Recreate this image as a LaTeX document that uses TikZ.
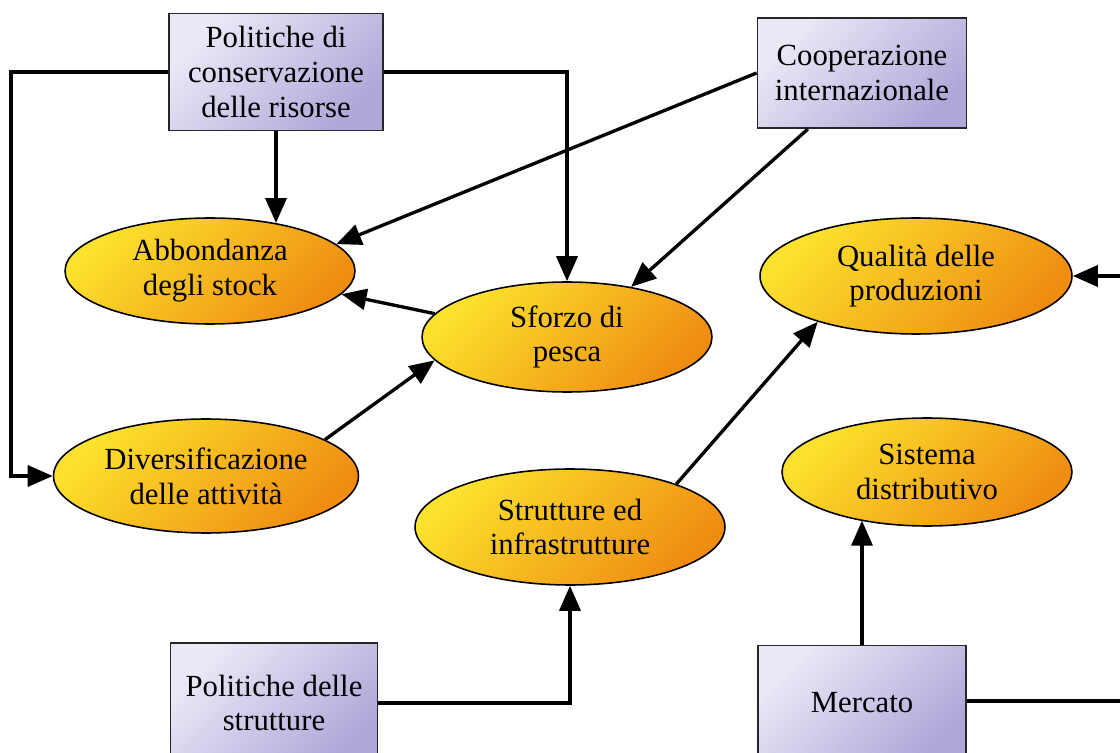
\documentclass[tikz,border=0pt]{standalone}
\usepackage{fontspec}
\setmainfont{Liberation Serif}
\usetikzlibrary{arrows.meta,shapes.geometric,positioning}

\definecolor{boxLight}{HTML}{ECE9F7}
\definecolor{boxDark}{HTML}{B0A7D9}
\definecolor{ellLight}{HTML}{FCE22C}
\definecolor{ellDark}{HTML}{EF8C12}

\tikzset{
  policy/.style={draw=black!85, line width=1.1pt, top color=boxLight, bottom color=boxDark,
    shading angle=45, inner sep=0pt, align=center, font=\fontsize{17.5}{19.8}\selectfont},
  factor/.style={ellipse, draw=black, line width=0.9pt, top color=ellLight, bottom color=ellDark,
    shading angle=45, inner sep=0pt, align=center, font=\fontsize{17.5}{19.8}\selectfont},
  link/.style={line width=1.9pt},
  flow/.style={link, -{Triangle[length=0.5cm,width=0.42cm]}}
}

\begin{document}
\begin{tikzpicture}[x=0.02cm,y=-0.02cm]
  \useasboundingbox (0,0) rectangle (1120,753);
  \clip (0,0) rectangle (1120,753);

  % Policies (boxes)
  \node[policy, minimum width=4.28cm, minimum height=2.34cm] (cons) at (276,72) {Politiche di\\conservazione\\delle risorse};
  \node[policy, minimum width=4.18cm, minimum height=2.2cm] (coop) at (862,73) {Cooperazione\\internazionale};
  \node[policy, minimum width=4.14cm, minimum height=2.4cm] (pstr) at (274,703) {Politiche delle\\strutture};
  \node[policy, minimum width=4.16cm, minimum height=2.3cm] (merc) at (862,703) {Mercato};

  % Factors (ellipses)
  \node[factor, minimum width=5.8cm, minimum height=2.12cm] (abb) at (210,271) {Abbondanza\\degli stock};
  \node[factor, minimum width=5.8cm, minimum height=2.2cm] (sforzo) at (567,337) {Sforzo di\\pesca};
  \node[factor, minimum width=6.1cm, minimum height=2.28cm] (div) at (206,476) {Diversificazione\\delle attività};
  \node[factor, minimum width=6.2cm, minimum height=2.32cm] (str) at (570,527) {Strutture ed\\infrastrutture};
  \node[factor, minimum width=6.24cm, minimum height=2.32cm] (qual) at (916,276) {Qualità delle\\produzioni};
  \node[factor, minimum width=5.8cm, minimum height=2.16cm] (sys) at (927,472) {Sistema\\distributivo};

  % loose ends at the right border
  \coordinate (qualIn) at (1130,276);
  \coordinate (mktOut) at (1130,701);

  % Flows from the resource policies
  \draw[flow] (cons.west) -- ++(-157,0) |- (div.west);
  \draw[flow] (cons.south) -- (cons.south |- abb.36);
  \draw[flow] (cons.east) -| (sforzo.north);

  % Flows from cooperation
  \draw[flow] (coop.west) -- (abb.12);
  \draw[flow] (coop.226) -- (sforzo.38);

  % Between factors
  \draw[flow] (sforzo.170) -- (abb.350);
  \draw[flow] (div.17) -- (sforzo.190);
  \draw[flow] (str.22) -- (qual.205);

  % Structures and market
  \draw[flow] (pstr.east) -| (str.south);
  \draw[flow] (merc.north) -- (merc.north |- sys.216);
  \draw[link] (merc.east |- mktOut) -- (mktOut);
  \draw[flow] (qualIn) -- (qual.east);
\end{tikzpicture}
\end{document}
